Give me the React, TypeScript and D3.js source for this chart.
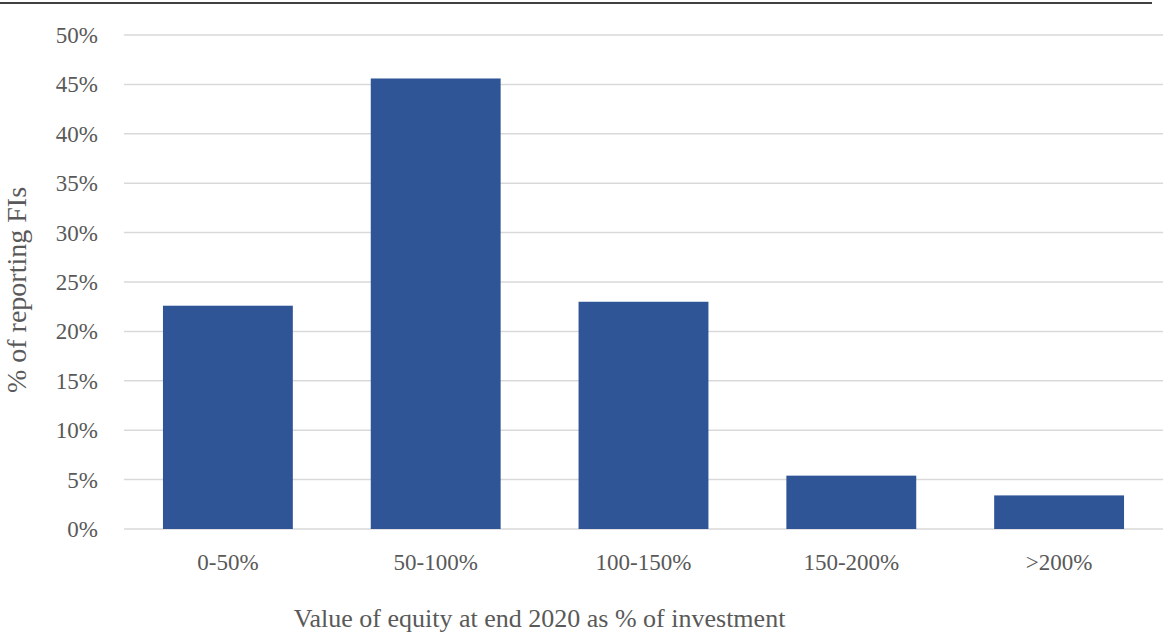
import React from "react";
import * as d3 from "d3";

const categories = ["0-50%", "50-100%", "100-150%", "150-200%", ">200%"];
const shares = [22.6, 45.6, 23.0, 5.4, 3.4];
const yTicks = [0, 5, 10, 15, 20, 25, 30, 35, 40, 45, 50];

const width = 1165;
const height = 637;
const margin = { top: 35, right: 2, bottom: 108, left: 124 };
const font = "'Liberation Serif', 'Times New Roman', serif";
const textColor = "#595959";

const App = () => {
  const x = d3
    .scaleBand<string>()
    .domain(categories)
    .range([margin.left, width - margin.right])
    .paddingInner(0.375)
    .paddingOuter(0.1875);
  const y = d3.scaleLinear([0, 50], [height - margin.bottom, margin.top]);

  return (
    <svg
      width={width}
      height={height}
      style={{ position: "absolute", left: 0, top: 0, background: "#fff" }}
      fontFamily={font}
    >
      <line x1={0} x2={1152} y1={3} y2={3} stroke="#000" strokeWidth={1.5} />
      <g>
        {yTicks.map((t) => (
          <g key={t}>
            <line
              x1={margin.left}
              x2={width - margin.right}
              y1={y(t)}
              y2={y(t)}
              stroke="#d9d9d9"
              strokeWidth={1.5}
            />
            <text
              x={98}
              y={y(t)}
              dy="0.35em"
              textAnchor="end"
              fontSize={23}
              fill={textColor}
            >
              {t}%
            </text>
          </g>
        ))}
      </g>
      <g fill="#2f5597">
        {categories.map((c, i) => (
          <rect
            key={c}
            x={x(c)}
            y={y(shares[i])}
            width={x.bandwidth()}
            height={y(0) - y(shares[i])}
          />
        ))}
      </g>
      <g>
        {categories.map((c) => (
          <text
            key={c}
            x={(x(c) ?? 0) + x.bandwidth() / 2}
            y={562}
            dy="0.35em"
            textAnchor="middle"
            fontSize={23}
            fill={textColor}
          >
            {c}
          </text>
        ))}
      </g>
      <text
        x={(margin.left + width - margin.right) / 2 - 104}
        y={618}
        dy="0.35em"
        textAnchor="middle"
        fontSize={26}
        fill={textColor}
      >
        Value of equity at end 2020 as % of investment
      </text>
      <text
        transform={`translate(4,290) rotate(-90)`}
        dy="0.8em"
        textAnchor="middle"
        fontSize={28}
        fill={textColor}
      >
        % of reporting FIs
      </text>
    </svg>
  );
};

export default App;
